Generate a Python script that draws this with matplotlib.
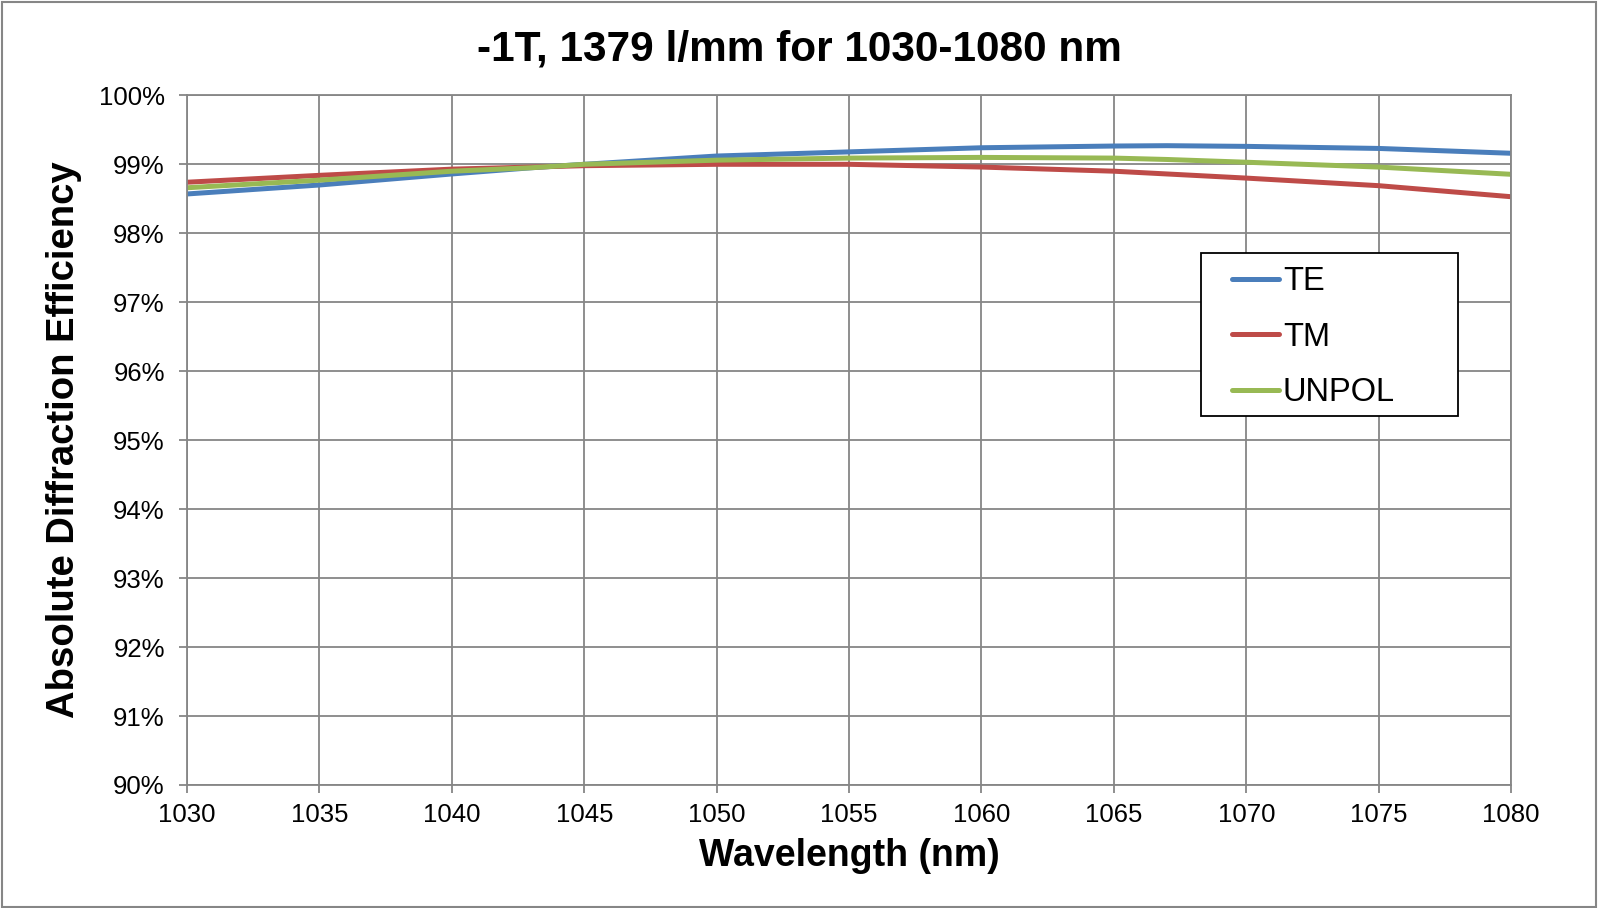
import matplotlib.pyplot as plt
from matplotlib.ticker import FuncFormatter, MultipleLocator
from matplotlib.patches import Rectangle

plt.rcParams['font.family'] = ['Liberation Sans', 'DejaVu Sans']

# data
wavelength = [1030, 1035, 1040, 1043, 1045, 1050, 1055, 1060, 1065, 1067, 1070, 1075, 1080]
te = [98.57, 98.70, 98.86, 98.95, 99.00, 99.12, 99.18, 99.24, 99.265, 99.27, 99.26, 99.23, 99.16]
tm = [98.74, 98.84, 98.93, 98.96, 98.98, 99.00, 99.00, 98.96, 98.90, 98.86, 98.80, 98.69, 98.53]
unpol = [98.66, 98.77, 98.90, 98.95, 99.00, 99.06, 99.09, 99.10, 99.09, 99.07, 99.03, 98.96, 98.855]

fig = plt.figure(figsize=(15.99, 9.08), dpi=100)
ax = fig.add_axes([0.117, 0.1355, 0.828, 0.7595])

ax.plot(wavelength, te, color='#4A7EBB', lw=3.6, label='TE', solid_capstyle='round')
ax.plot(wavelength, tm, color='#BE4B48', lw=3.6, label='TM', solid_capstyle='round')
ax.plot(wavelength, unpol, color='#98B954', lw=3.6, label='UNPOL', solid_capstyle='round')

ax.set_xlim(1030, 1080)
ax.set_ylim(90, 100)
ax.xaxis.set_major_locator(MultipleLocator(5))
ax.yaxis.set_major_locator(MultipleLocator(1))
ax.yaxis.set_major_formatter(FuncFormatter(lambda v, p: '%d%%' % round(v)))
ax.grid(True, color='#868686', lw=1.3)
ax.set_axisbelow(True)
for s in ax.spines.values():
    s.set_color('#868686')
    s.set_linewidth(1.3)
ax.tick_params(axis='both', labelsize=18.5, color='#868686', length=6, width=1.3)
ax.tick_params(axis='x', pad=7)
ax.tick_params(axis='y', pad=10)

ax.set_xlabel('Wavelength (nm)', fontsize=27, fontweight='bold', labelpad=8)
ax.set_ylabel('Absolute Diffraction Efficiency', fontsize=27.5, fontweight='bold', labelpad=12)
fig.text(0.5, 0.946, '-1T, 1379 l/mm for 1030-1080 nm', ha='center', va='center',
         fontsize=30.5, fontweight='bold')

# legend box drawn separately so the padding can match the reference
ax.add_patch(Rectangle((0.766, 0.535), 0.194, 0.236, transform=ax.transAxes,
                       facecolor='white', edgecolor='black', lw=1.3, zorder=4))
leg = ax.legend(loc='upper left', bbox_to_anchor=(0.789, 0.752), fontsize=23.5,
                frameon=False, handlelength=1.45, handletextpad=0.12,
                labelspacing=0.75, borderpad=0, borderaxespad=0)
leg.set_zorder(5)

fig.patches.append(Rectangle((0.001, 0.001), 0.997, 0.997, transform=fig.transFigure,
                             fill=False, edgecolor='#868686', lw=1.5))

fig.savefig('out.png', dpi=100)
